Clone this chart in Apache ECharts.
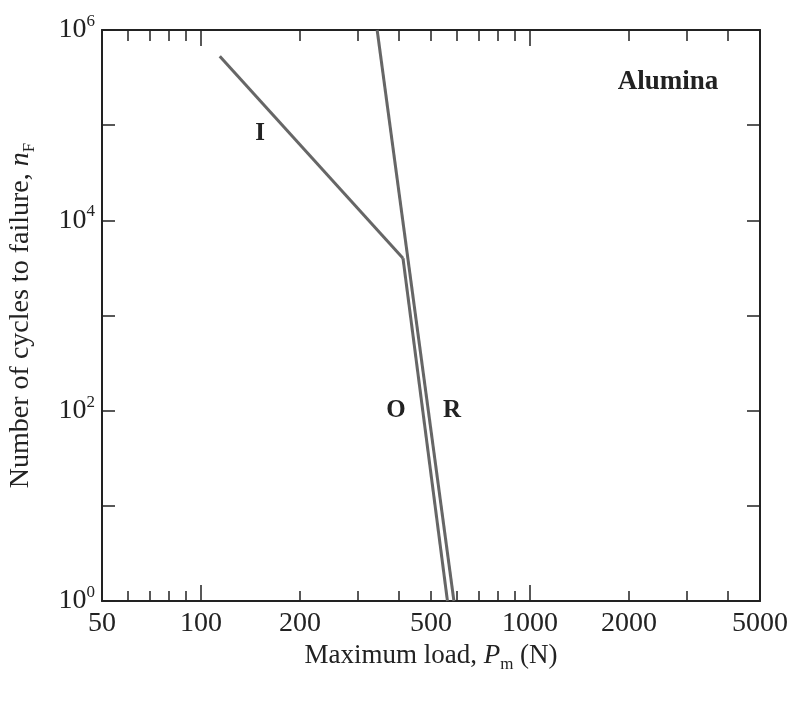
<!DOCTYPE html>
<html>
<head>
<meta charset="utf-8">
<script src="https://cdn.jsdelivr.net/npm/echarts@6/dist/echarts.min.js"></script>
<style>
  html, body { margin: 0; padding: 0; background: #fff; }
  #chart { width: 800px; height: 711px; }
</style>
</head>
<body>
<div id="chart"></div>
<script>
// ---- data ----
const loadI = [114, 411];
const cyclesI = [530000, 4000];
const loadO = [411, 561];
const cyclesO = [4000, 1];
const loadR = [343, 587];
const cyclesR = [1000000, 1];

const xLabelValues = [50, 100, 200, 500, 1000, 2000, 5000];
const xMajorTicks = [100, 1000];
const xMinorTicks = [60, 70, 80, 90, 200, 300, 400, 500, 600, 700, 800, 900, 2000, 3000, 4000];
const yTickValues = [1, 10, 100, 1000, 10000, 100000, 1000000];
const yLabelValues = [1, 100, 10000, 1000000];

const FONT = '"Liberation Serif", "DejaVu Serif", serif';
const INK = '#222';
const LINE = '#666';

function pairs(xs, ys) { return xs.map((x, i) => [x, ys[i]]); }

const chart = echarts.init(document.getElementById('chart'), null, { renderer: 'canvas' });

const baseX = {
  type: 'log', logBase: 10, min: 50, max: 5000,
  splitLine: { show: false }, minorTick: { show: false }, minorSplitLine: { show: false }
};
const baseY = {
  type: 'log', logBase: 10, min: 1, max: 1000000,
  splitLine: { show: false }, minorTick: { show: false }, minorSplitLine: { show: false }
};

const option = {
  animation: false,
  backgroundColor: '#fff',
  grid: { left: 102, right: 40, top: 30, bottom: 110, containLabel: false, outerBoundsMode: 'none' },
  xAxis: [
    Object.assign({}, baseX, {
      position: 'bottom',
      axisLine: { show: true, lineStyle: { color: INK, width: 2 } },
      axisTick: { show: true, inside: true, length: 10, customValues: xMinorTicks, lineStyle: { color: INK, width: 1.5 } },
      axisLabel: {
        show: true, customValues: xLabelValues, margin: 9,
        color: INK, fontFamily: FONT, fontSize: 28,
        formatter: v => String(Math.round(v))
      },
      name: '{t|Maximum load, }{i|P}{s|m}{t| (N)}',
      nameLocation: 'middle', nameGap: 37,
      nameTextStyle: {
        rich: {
          t: { fontFamily: FONT, fontSize: 27, color: INK, lineHeight: 34 },
          i: { fontFamily: FONT, fontSize: 27, fontStyle: 'italic', color: INK, lineHeight: 34 },
          s: { fontFamily: FONT, fontSize: 17, color: INK, verticalAlign: 'bottom', lineHeight: 17 }
        }
      }
    }),
    Object.assign({}, baseX, {
      position: 'bottom',
      axisLine: { show: false },
      axisTick: { show: true, inside: true, length: 16, customValues: xMajorTicks, lineStyle: { color: INK, width: 1.5 } },
      axisLabel: { show: false }
    }),
    Object.assign({}, baseX, {
      position: 'top',
      axisLine: { show: true, lineStyle: { color: INK, width: 2 } },
      axisTick: { show: true, inside: true, length: 11, customValues: xMinorTicks, lineStyle: { color: INK, width: 1.5 } },
      axisLabel: { show: false }
    }),
    Object.assign({}, baseX, {
      position: 'top',
      axisLine: { show: false },
      axisTick: { show: true, inside: true, length: 16, customValues: xMajorTicks, lineStyle: { color: INK, width: 1.5 } },
      axisLabel: { show: false }
    })
  ],
  yAxis: [
    Object.assign({}, baseY, {
      position: 'left',
      axisLine: { show: true, lineStyle: { color: INK, width: 2 } },
      axisTick: { show: true, inside: true, length: 13, customValues: yTickValues, lineStyle: { color: INK, width: 1.5 } },
      axisLabel: {
        show: true, customValues: yLabelValues, margin: 7,
        formatter: v => '{b|10}{s|' + Math.round(Math.log10(v)) + '}',
        rich: {
          b: { fontFamily: FONT, fontSize: 28, color: INK, lineHeight: 34 },
          s: { fontFamily: FONT, fontSize: 17, color: INK, verticalAlign: 'top', lineHeight: 17 }
        }
      },
      name: '{t|Number of cycles to failure, }{i|n}{s|F}',
      nameLocation: 'middle', nameGap: 64, nameRotate: 90,
      nameTextStyle: {
        rich: {
          t: { fontFamily: FONT, fontSize: 28, color: INK, lineHeight: 34 },
          i: { fontFamily: FONT, fontSize: 28, fontStyle: 'italic', color: INK, lineHeight: 34 },
          s: { fontFamily: FONT, fontSize: 17, color: INK, verticalAlign: 'bottom', lineHeight: 17 }
        }
      }
    }),
    Object.assign({}, baseY, {
      position: 'right',
      axisLine: { show: true, lineStyle: { color: INK, width: 2 } },
      axisTick: { show: true, inside: true, length: 13, customValues: yTickValues, lineStyle: { color: INK, width: 1.5 } },
      axisLabel: { show: false }
    })
  ],
  series: [
    { name: 'I', type: 'line', data: pairs(loadI, cyclesI), symbol: 'none', lineStyle: { color: LINE, width: 3 }, clip: true },
    { name: 'O', type: 'line', data: pairs(loadO, cyclesO), symbol: 'none', lineStyle: { color: LINE, width: 3 }, clip: true },
    { name: 'R', type: 'line', data: pairs(loadR, cyclesR), symbol: 'none', lineStyle: { color: LINE, width: 3 }, clip: true }
  ],
  graphic: [
    { type: 'text', x: 668, y: 82, style: { text: 'Alumina', font: 'bold 27px ' + FONT, fill: INK, align: 'center', verticalAlign: 'middle' } },
    { type: 'text', x: 260, y: 134, style: { text: 'I', font: 'bold 25px ' + FONT, fill: INK, align: 'center', verticalAlign: 'middle' } },
    { type: 'text', x: 396, y: 411, style: { text: 'O', font: 'bold 25px ' + FONT, fill: INK, align: 'center', verticalAlign: 'middle' } },
    { type: 'text', x: 452, y: 411, style: { text: 'R', font: 'bold 25px ' + FONT, fill: INK, align: 'center', verticalAlign: 'middle' } }
  ]
};

chart.setOption(option);
</script>
</body>
</html>
